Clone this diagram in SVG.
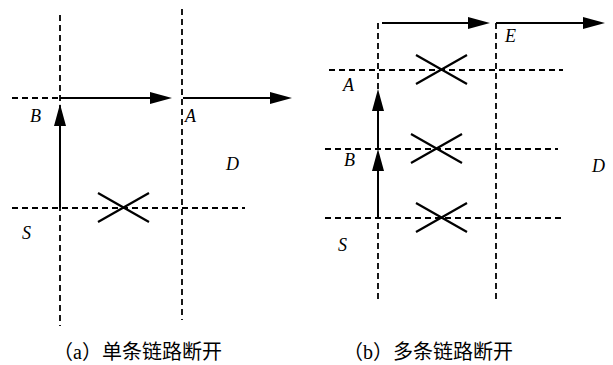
<svg xmlns="http://www.w3.org/2000/svg" width="613" height="365" viewBox="0 0 613 365">
<style>
.d{stroke:#000;stroke-width:1.8;stroke-dasharray:6 4;fill:none}
.s{stroke:#000;stroke-width:2;fill:none}
.a{stroke:#000;stroke-width:2;fill:none;marker-end:url(#ah)}
.x{stroke:#000;stroke-width:2.2;fill:none}
.lb{font-family:"Liberation Serif","Times New Roman",serif;font-style:italic;font-size:18px;fill:#000}
.cap{font-family:"Liberation Serif","Noto Sans CJK SC",serif;font-size:20px;fill:#000}
</style>
<defs>
<marker id="ah" markerUnits="userSpaceOnUse" markerWidth="22" markerHeight="12" refX="12" refY="6" orient="auto" viewBox="0 0 22 12">
<path d="M0,0 L22,6 L0,12 Z" fill="#000"/>
</marker>
</defs>
<rect width="613" height="365" fill="#fff"/>
<g id="grid-a">
<line class="d" x1="60" y1="15" x2="60" y2="326"/>
<line class="d" x1="182" y1="9" x2="182" y2="320"/>
<line class="d" x1="12" y1="98" x2="60" y2="98"/>
<line class="d" x1="12" y1="208" x2="245" y2="208"/>
</g>
<g id="grid-b">
<line class="d" x1="378" y1="23" x2="378" y2="302"/>
<line class="d" x1="496" y1="23" x2="496" y2="302"/>
<line class="d" x1="329" y1="70" x2="563" y2="70"/>
<line class="d" x1="325" y1="149" x2="558" y2="149"/>
<line class="d" x1="325" y1="218" x2="562" y2="218"/>
</g>
<g id="connectors">
<line class="a" x1="60" y1="208" x2="60" y2="114"/>
<line class="a" x1="60" y1="98" x2="162" y2="98"/>
<line class="a" x1="183" y1="98" x2="282" y2="98"/>
<line class="a" x1="378" y1="218" x2="378" y2="159"/>
<line class="a" x1="378" y1="149" x2="378" y2="99"/>
<line class="a" x1="382" y1="23" x2="480" y2="23"/>
<line class="a" x1="496" y1="23" x2="595" y2="23"/>
</g>
<g id="breaks">
<path class="x" d="M98,193 L149,222 M149,193 L98,222"/>
<path class="x" d="M416,55 L467,84 M467,55 L416,84"/>
<path class="x" d="M411,134 L462,163 M462,134 L411,163"/>
<path class="x" d="M416,203 L467,232 M467,203 L416,232"/>
</g>
<g id="node-a-B"><text class="lb" x="30" y="122">B</text></g>
<g id="node-a-A"><text class="lb" x="185" y="122">A</text></g>
<g id="node-a-D"><text class="lb" x="226" y="170">D</text></g>
<g id="node-a-S"><text class="lb" x="22" y="239">S</text></g>
<g id="node-b-E"><text class="lb" x="505" y="42">E</text></g>
<g id="node-b-A"><text class="lb" x="343" y="91">A</text></g>
<g id="node-b-B"><text class="lb" x="344" y="166">B</text></g>
<g id="node-b-D"><text class="lb" x="592" y="172">D</text></g>
<g id="node-b-S"><text class="lb" x="338" y="251">S</text></g>
<g id="captions">
<text class="cap" x="53" y="359">（a）单条链路断开</text>
<text class="cap" x="343" y="359">（b）多条链路断开</text>
</g>
</svg>
